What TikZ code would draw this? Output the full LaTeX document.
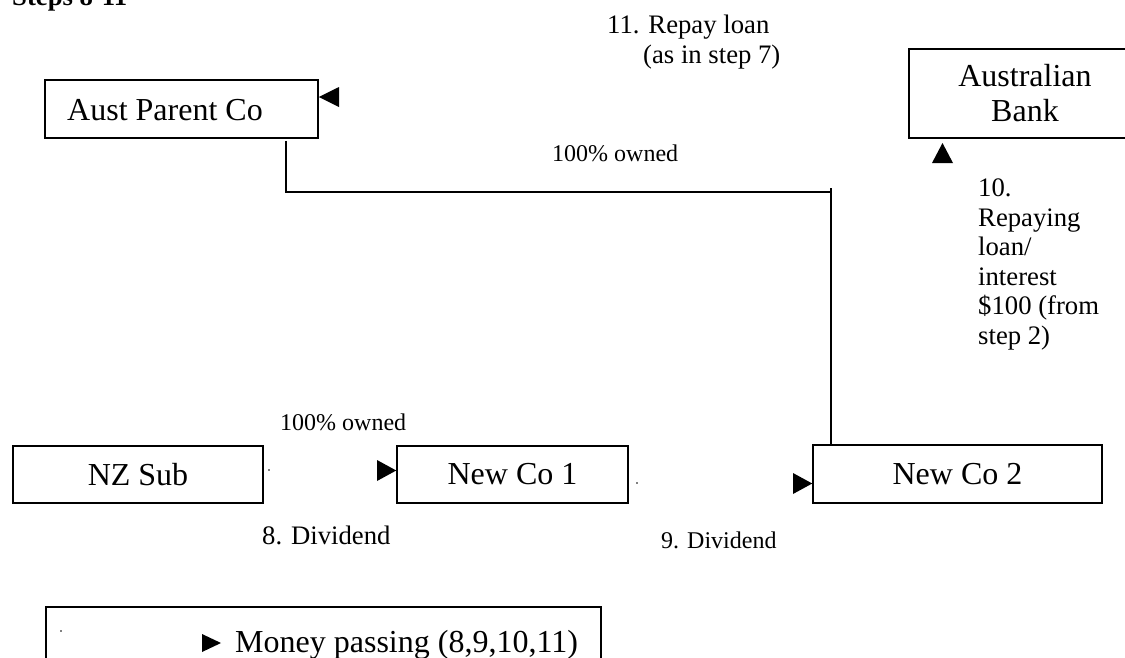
\documentclass[tikz,border=0pt]{standalone}
\usepackage{fontspec}
\setmainfont{Liberation Serif}
\begin{document}
\begin{tikzpicture}[x=1pt,y=-1pt,
  box/.style={draw, line width=1.5pt, inner sep=0pt},
  big/.style={font=\fontsize{32}{35}\selectfont, inner sep=0pt},
  small/.style={font=\fontsize{26.7}{29.5}\selectfont, inner sep=0pt},
  tiny/.style={font=\fontsize{24}{27.6}\selectfont, inner sep=0pt},
  link/.style={line width=1.5pt},
  tipfill/.style={fill=black}]
\clip (0,0) rectangle (1125,657);
\fill[white] (0,0) rectangle (1125,657);

% heading
\node[font=\fontsize{26.7}{30}\selectfont\bfseries, inner sep=0pt, anchor=base west] (title) at (12,5) {Steps 8-11};

% entities
\node[box, minimum width=273pt, minimum height=58pt] (aust) at (181.5,109) {};
\node[big, anchor=base west] (austlbl) at (67,120) {Aust Parent Co};
\node[box, big, align=center, minimum width=232pt, minimum height=89pt] (bank) at (1025,93.5) {Australian\\Bank};
\node[box, big, minimum width=250pt, minimum height=57pt] (nz) at (138,474.5) {NZ Sub};
\node[box, big, minimum width=231pt, minimum height=57pt] (nc1) at (512.5,474.5) {New Co 1};
\node[box, big, minimum width=289pt, minimum height=58pt] (nc2) at (957.5,474) {New Co 2};

% ownership lines
\coordinate (jL) at (286,192);
\coordinate (jR) at (831,188);
\draw[link] ([yshift=-2pt]jL |- aust.south) -- (jL) -- (jL -| jR);
\draw[link] (jR) -- (jR |- nc2.north);

% money flow arrow heads
\fill[tipfill] (aust.east |- 0,97) -- (339,87) -- (339,107) -- cycle;
\fill[tipfill] (942.5,143) -- (932,163) -- (953,163) -- cycle;
\fill[tipfill] (nc1.west |- 0,470.5) -- (377,460) -- (377,481) -- cycle;
\fill[tipfill] (nc2.west |- 0,483.5) -- (793,473) -- (793,494) -- cycle;
\fill (269,470) circle (0.9pt);
\fill (637,483) circle (0.9pt);

% labels
\node[small, anchor=base west] (rep1) at (607,33) {11. Repay loan};
\node[small, anchor=base west] (rep2) at (643,63) {(as in step 7)};
\node[tiny, anchor=base west] (own1) at (552,161) {100\% owned};
\node[small, align=left, anchor=north west] (repay) at (978,179) {10.\\Repaying\\loan/\\interest\\\$100 (from\\step 2)};
\node[tiny, anchor=base west] (own2) at (280,430) {100\% owned};
\node[small, anchor=base west] (div8) at (262,544) {8. Dividend};
\node[tiny, anchor=base west] (div9) at (661,548) {9. Dividend};

% legend
\node[box, minimum width=555pt, minimum height=94pt, anchor=north west] (legend) at (45,606) {};
\fill (61,631) circle (0.9pt);
\fill[tipfill] (221,643) -- (202,634) -- (202,652) -- cycle;
\node[big, anchor=base west] (leglbl) at (235,652) {Money passing (8,9,10,11)};
\end{tikzpicture}
\end{document}
